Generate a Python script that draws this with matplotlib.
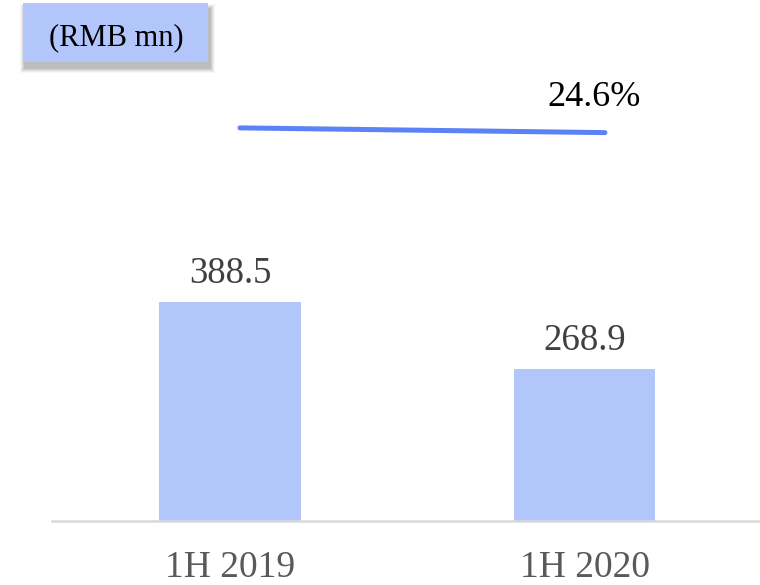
import numpy as np
import matplotlib
matplotlib.use("Agg")
from matplotlib import pyplot as plt
from matplotlib.patches import Rectangle

plt.rcParams["font.family"] = ["Liberation Serif", "DejaVu Serif"]

# Data
periods = ["1H 2019", "1H 2020"]
revenue = [388.5, 268.9]
margin = [24.9, 24.6]
unit_label = "(RMB mn)"

W, H = 760, 585
bar_color = "#b3c6fb"
line_color = "#5b83f5"

fig = plt.figure(figsize=(W / 100, H / 100), dpi=100)

# main axes: left 52px, bottom at y=521px, running to the top
ax = fig.add_axes([52 / W, (H - 521) / H, (W - 52) / W, 521 / H])
x = np.arange(len(periods))
bars = ax.bar(x, revenue, width=0.40, color=bar_color, zorder=2)
ax.set_xlim(-0.502, 1.495)
ax.set_ylim(0, 924)
ax.set_xticks(x)
ax.set_xticklabels(periods, fontsize=27, color="#595959")
ax.tick_params(axis="x", length=0, pad=21)
ax.set_yticks([])
for side in ["left", "right", "top"]:
    ax.spines[side].set_visible(False)
ax.spines["bottom"].set_color("#d9d9d9")
ax.spines["bottom"].set_linewidth(1.8)

for rect, val in zip(bars, revenue):
    ax.annotate("{:.1f}".format(val), (rect.get_x() + rect.get_width() / 2, rect.get_height()),
                xytext=(0, 13.7), textcoords="offset points",
                ha="center", va="baseline", fontsize=26.5, color="#404040")

# margin line on its own axes
ax2 = fig.add_axes(ax.get_position(), frameon=False)
ax2.plot(x, margin, color=line_color, lw=3.6, solid_capstyle="round")
ax2.set_xlim(-0.515, 1.425)
ax2.set_ylim(0, 33)
ax2.set_xticks([])
ax2.set_yticks([])
ax2.annotate("{:.1f}%".format(margin[-1]), (x[-1], margin[-1]),
             xytext=(-8, 19.4), textcoords="offset points",
             ha="center", va="baseline", fontsize=26, color="black")

# unit box with soft shadow
def px_rect(x0, y0, x1, y1, **kw):
    return Rectangle((x0 / W, 1 - y1 / H), (x1 - x0) / W, (y1 - y0) / H,
                     transform=fig.transFigure, **kw)

for i, a in enumerate([0.04, 0.06, 0.08, 0.10, 0.12]):
    d = 5 - i
    fig.patches.append(px_rect(23 + 2 - d, 3 + 6 - d, 208 + 2 + d, 62 + 6 + d,
                               facecolor="#444444", edgecolor="none", alpha=a, lw=0))
fig.patches.append(px_rect(23, 3, 208, 62, facecolor=bar_color, edgecolor="none", lw=0))
fig.text(116 / W, 1 - 45 / H, unit_label, ha="center", va="baseline",
         fontsize=22, color="black")

fig.savefig("out.png", dpi=100)
plt.close(fig)
